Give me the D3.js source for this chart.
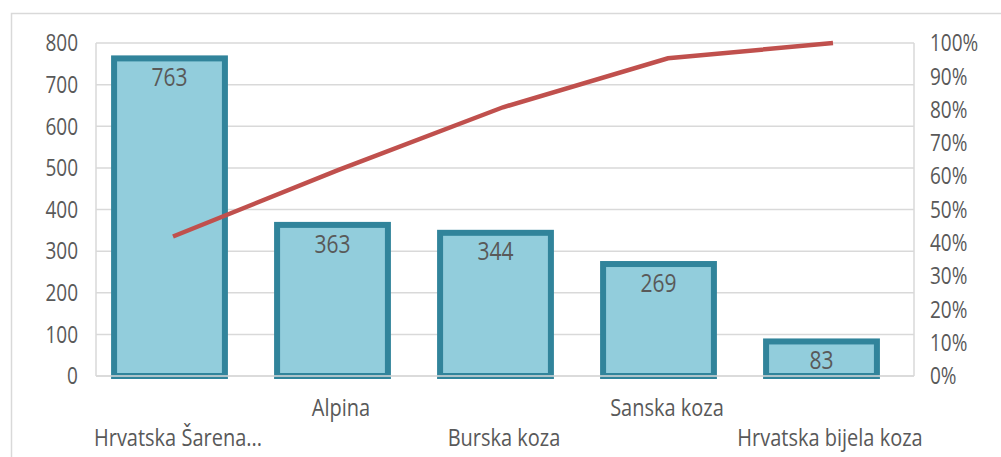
<!DOCTYPE html>
<html>
<head>
<meta charset="utf-8">
<script src="https://cdn.jsdelivr.net/npm/d3@7"></script>
<style>
  body { margin: 0; background: #fff; }
  text {
    font-family: "Open Sans", sans-serif; fill: #595959;
    transform-box: fill-box; transform-origin: center; transform: scaleY(1.2);
  }
</style>
</head>
<body>
<svg id="chart" width="1001" height="457"></svg>
<script>
const categories = ["Hrvatska Šarena...", "Alpina", "Burska koza", "Sanska koza", "Hrvatska bijela koza"];
const counts = [763, 363, 344, 269, 83];
const cumulative = [0.419, 0.618, 0.807, 0.954, 1.0];
const leftTicks = [0, 100, 200, 300, 400, 500, 600, 700, 800];
const rightTicks = [0, 0.1, 0.2, 0.3, 0.4, 0.5, 0.6, 0.7, 0.8, 0.9, 1.0];

const svg = d3.select("#chart");
const plotLeft = 96, plotRight = 914, plotTop = 43, plotBottom = 376;

// outer chart border
svg.append("rect")
  .attr("x", 11.5).attr("y", 13.5)
  .attr("width", 1010).attr("height", 470)
  .attr("fill", "none").attr("stroke", "#d9d9d9").attr("stroke-width", 1.5);

const x = d3.scaleBand().domain(categories).range([88, 903])
  .paddingInner(0.32).paddingOuter(0.16);
const xLine = d3.scalePoint().domain(categories).range([173, 833]);
const xLabel = d3.scalePoint().domain(categories).range([178, 830]);
const y = d3.scaleLinear().domain([0, 800]).range([plotBottom, plotTop]);
const yPct = d3.scaleLinear().domain([0, 1]).range([plotBottom, plotTop]);

// gridlines
svg.append("g")
  .selectAll("line")
  .data(leftTicks)
  .enter()
  .append("line")
  .attr("x1", plotLeft).attr("x2", plotRight)
  .attr("y1", (d) => y(d)).attr("y2", (d) => y(d))
  .attr("stroke", "#d9d9d9").attr("stroke-width", 1.5);

// frame sides
[plotLeft, plotRight].forEach((xx) => {
  svg.append("line")
    .attr("x1", xx).attr("x2", xx).attr("y1", plotTop).attr("y2", plotBottom)
    .attr("stroke", "#d9d9d9").attr("stroke-width", 1.5);
});

// left axis labels
svg.append("g")
  .selectAll("text")
  .data(leftTicks)
  .enter()
  .append("text")
  .attr("x", 78)
  .attr("y", (d) => y(d))
  .attr("dy", "0.36em")
  .attr("text-anchor", "end")
  .style("font-size", "19px")
  .text((d) => d);

// right axis labels
svg.append("g")
  .selectAll("text")
  .data(rightTicks)
  .enter()
  .append("text")
  .attr("x", 930)
  .attr("y", (d) => yPct(d))
  .attr("dy", "0.36em")
  .style("font-size", "19px")
  .text(d3.format(".0%"));

// bars
svg.append("g")
  .selectAll(".bar")
  .data(counts)
  .enter()
  .append("rect")
  .classed("bar", true)
  .attr("x", (d, i) => x(categories[i]))
  .attr("y", (d) => y(d))
  .attr("width", x.bandwidth())
  .attr("height", (d) => plotBottom - y(d))
  .attr("fill", "#92cddc")
  .attr("stroke", "#31849b")
  .attr("stroke-width", 6);

// axis line over bars
svg.append("line")
  .attr("x1", plotLeft).attr("x2", plotRight).attr("y1", plotBottom).attr("y2", plotBottom)
  .attr("stroke", "#d9d9d9").attr("stroke-width", 1.5);

// value labels
svg.append("g")
  .selectAll("text")
  .data(counts)
  .enter()
  .append("text")
  .attr("x", (d, i) => x(categories[i]) + x.bandwidth() / 2)
  .attr("y", (d) => y(d) + 26)
  .attr("text-anchor", "middle")
  .style("font-size", "21px")
  .text((d) => d);

// cumulative line
const line = d3.line()
  .x((d, i) => xLine(categories[i]))
  .y((d) => yPct(d));

svg.append("path")
  .datum(cumulative)
  .attr("d", line)
  .attr("fill", "none")
  .attr("stroke", "#c0504d")
  .attr("stroke-width", 4.5);

// category labels, staggered
svg.append("g")
  .selectAll("text")
  .data(categories)
  .enter()
  .append("text")
  .attr("x", (d) => xLabel(d))
  .attr("y", (d, i) => (i % 2 ? 414 : 444))
  .attr("text-anchor", "middle")
  .style("font-size", "20px")
  .text((d) => d);
</script>
</body>
</html>
